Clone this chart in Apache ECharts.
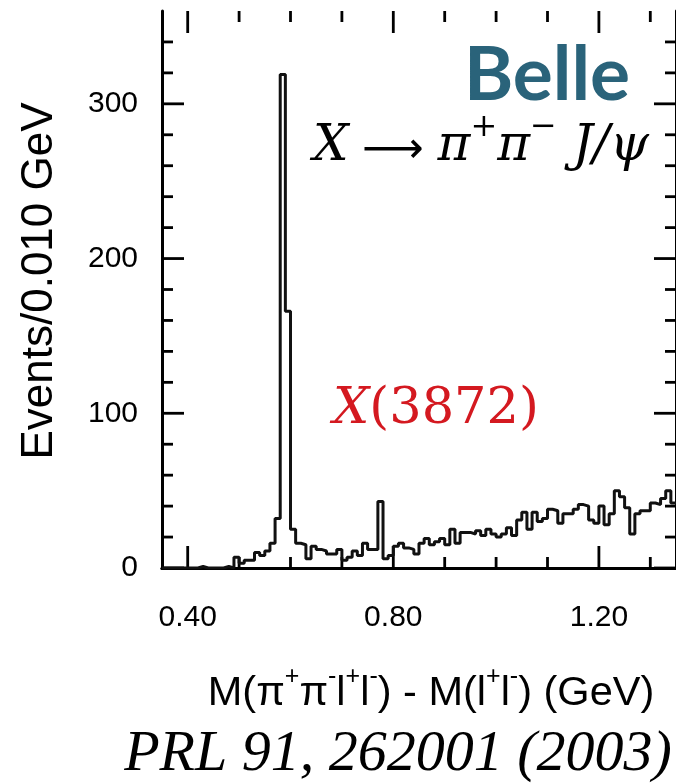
<!DOCTYPE html>
<html>
<head>
<meta charset="utf-8">
<script src="https://cdn.jsdelivr.net/npm/echarts@6/dist/echarts.min.js"></script>
<style>
  html, body { margin: 0; padding: 0; background: #ffffff; }
  #chart { width: 676px; height: 783px; }
</style>
</head>
<body>
<div id="chart"></div>
<script>
// M(pi+ pi- l+ l-) - M(l+ l-) spectrum, 10 MeV bins starting at 0.35 GeV
const binStart = 0.35;
const binWidth = 0.01;
const events = [
  0, 0, 0, 0, 0, 0, 0, 1, 0, 0,          // 0.35 - 0.44
  0, 0, 1, 0, 7, 3, 5, 5, 10, 8,         // 0.45 - 0.54
  11, 16, 32, 319, 166, 25, 16, 15, 6, 14, // 0.55 - 0.64
  12, 11, 9, 9, 12, 5, 7, 11, 8, 16,     // 0.65 - 0.74
  12, 12, 43, 6, 8, 14, 16, 13, 12, 9,   // 0.75 - 0.84
  16, 19, 15, 17, 19, 15, 25, 16, 23, 23, // 0.85 - 0.94
  22, 24, 21, 25, 22, 20, 22, 26, 21, 31, // 0.95 - 1.04
  36, 25, 36, 30, 32, 38, 37, 29, 35, 35, // 1.05 - 1.14
  38, 41, 40, 31, 29, 40, 28, 35, 50, 46, // 1.15 - 1.24
  39, 22, 35, 37, 37, 42, 41, 45, 50, 42  // 1.25 - 1.34
];

const xRange = [0.35, 1.35];
const yRange = [0, 360];
const xTickLabels = [0.40, 0.80, 1.20];
const xMinorTicks = [0.50, 0.60, 0.70, 0.90, 1.00, 1.10, 1.30];
const yTickLabels = [0, 100, 200, 300];
const yMinorTicks = [20, 40, 60, 80, 120, 140, 160, 180, 220, 240, 260, 280, 320, 340];

// step outline: each point is a bin's left edge, closed at the last right edge
const stepPoints = events.map((v, i) => [+(binStart + i * binWidth).toFixed(2), v]);
stepPoints.push([+(binStart + events.length * binWidth).toFixed(2), events[events.length - 1]]);

const INK = '#000000';
const MAJOR_LEN = 22;
const MINOR_LEN = 11;
const tickFont = { fontFamily: 'Liberation Sans', fontSize: 30, color: INK };
const tickLine = { stroke: INK, lineWidth: 2.8 };

function frameX(position, labels) {
  return {
    type: 'value', position, min: xRange[0], max: xRange[1],
    axisLine: { show: true, lineStyle: { color: INK, width: 3 } },
    axisTick: { show: false },
    axisLabel: labels ? Object.assign({ show: true, margin: 35, customValues: labels,
                formatter: v => v.toFixed(2) }, tickFont) : { show: false },
    splitLine: { show: false }
  };
}
function frameY(position, labels) {
  return {
    type: 'value', position, min: yRange[0], max: yRange[1],
    axisLine: { show: true, lineStyle: { color: INK, width: 3 } },
    axisTick: { show: false },
    axisLabel: labels ? Object.assign({ show: true, margin: 24, customValues: labels,
                formatter: v => String(v) }, tickFont) : { show: false },
    splitLine: { show: false }
  };
}

// inward tick marks on all four sides of the frame
const xTickRows = xTickLabels.map(v => [v, MAJOR_LEN]).concat(xMinorTicks.map(v => [v, MINOR_LEN]));
const yTickRows = yTickLabels.map(v => [MAJOR_LEN, v]).concat(yMinorTicks.map(v => [MINOR_LEN, v]));

function renderXTicks(params, api) {
  const v = api.value(0), len = api.value(1);
  const bottom = api.coord([v, yRange[0]]);
  const top = api.coord([v, yRange[1]]);
  return { type: 'group', children: [
    { type: 'line', shape: { x1: bottom[0], y1: bottom[1], x2: bottom[0], y2: bottom[1] - len }, style: tickLine },
    { type: 'line', shape: { x1: top[0], y1: top[1], x2: top[0], y2: top[1] + len }, style: tickLine }
  ] };
}
function renderYTicks(params, api) {
  const len = api.value(0), v = api.value(1);
  const left = api.coord([xRange[0], v]);
  const right = api.coord([xRange[1], v]);
  return { type: 'group', children: [
    { type: 'line', shape: { x1: left[0], y1: left[1], x2: left[0] + len, y2: left[1] }, style: tickLine },
    { type: 'line', shape: { x1: right[0], y1: right[1], x2: right[0] - len, y2: right[1] }, style: tickLine }
  ] };
}

const chart = echarts.init(document.getElementById('chart'), null, { renderer: 'canvas' });

chart.setOption({
  animation: false,
  backgroundColor: '#ffffff',
  grid: { left: 162, top: 11, width: 515, height: 557, containLabel: false },
  xAxis: [frameX('bottom', xTickLabels), frameX('top', null)],
  yAxis: [frameY('left', yTickLabels), frameY('right', null)],
  series: [
    {
      type: 'line',
      xAxisIndex: 0,
      yAxisIndex: 0,
      data: stepPoints,
      step: 'end',
      showSymbol: false,
      symbol: 'none',
      clip: true,
      lineStyle: { color: '#111111', width: 3 },
      z: 3
    },
    {
      type: 'custom', name: 'x ticks',
      xAxisIndex: 0, yAxisIndex: 0,
      data: xTickRows,
      encode: { x: 0 },
      renderItem: renderXTicks,
      silent: true, z: 2
    },
    {
      type: 'custom', name: 'y ticks',
      xAxisIndex: 0, yAxisIndex: 0,
      data: yTickRows,
      encode: { y: 1 },
      renderItem: renderYTicks,
      silent: true, z: 2
    }
  ],
  graphic: [
    {
      type: 'text', x: 547, y: 76,
      style: {
        text: 'Belle', fill: '#2a637a',
        font: 'bold 75px Lato',
        textAlign: 'center', textVerticalAlign: 'middle'
      }
    },
    {
      type: 'text', x: 313, y: 142,
      style: {
        text: '{i|X}{a| ⟶ }{i|π}{s|+}{i|π}{s|−}{i| J/ψ}',
        fill: INK,
        textAlign: 'left', textVerticalAlign: 'middle',
        rich: {
          i: { fontFamily: 'DejaVu Serif', fontStyle: 'italic', fontSize: 50, lineHeight: 60, verticalAlign: 'bottom', fill: INK },
          a: { fontFamily: 'DejaVu Sans', fontSize: 43, lineHeight: 60, verticalAlign: 'bottom', fill: INK },
          s: { fontFamily: 'DejaVu Serif', fontSize: 32, lineHeight: 30, verticalAlign: 'top', fill: INK }
        }
      }
    },
    {
      type: 'text', x: 333, y: 410,
      style: {
        text: '{i|X}{r|(3872)}',
        textAlign: 'left', textVerticalAlign: 'middle',
        rich: {
          i: { fontFamily: 'DejaVu Serif', fontStyle: 'italic', fontSize: 51, fill: '#d41920' },
          r: { fontFamily: 'DejaVu Serif', fontSize: 51, fill: '#d41920' }
        }
      }
    },
    {
      type: 'text', x: 40, y: 281, rotation: Math.PI / 2,
      style: {
        text: 'Events/0.010 GeV', fill: INK,
        font: '44px "Liberation Sans"',
        textAlign: 'center', textVerticalAlign: 'middle'
      }
    },
    {
      type: 'text', x: 431, y: 690,
      style: {
        text: '{a|M(π}{s|+}{a|π}{s|-}{a|l}{s|+}{a|l}{s|-}{a|) - M(l}{s|+}{a|l}{s|-}{a|) (GeV)}',
        fill: INK,
        textAlign: 'center', textVerticalAlign: 'middle',
        rich: {
          a: { fontFamily: 'Liberation Sans', fontSize: 41.5, lineHeight: 50, verticalAlign: 'bottom', fill: INK },
          s: { fontFamily: 'Liberation Sans', fontSize: 25, lineHeight: 26, verticalAlign: 'top', fill: INK }
        }
      }
    },
    {
      type: 'text', x: 398, y: 755,
      style: {
        text: 'PRL 91, 262001 (2003)', fill: INK,
        font: 'italic 58px "Liberation Serif"',
        textAlign: 'center', textVerticalAlign: 'middle'
      }
    }
  ]
});
</script>
</body>
</html>
